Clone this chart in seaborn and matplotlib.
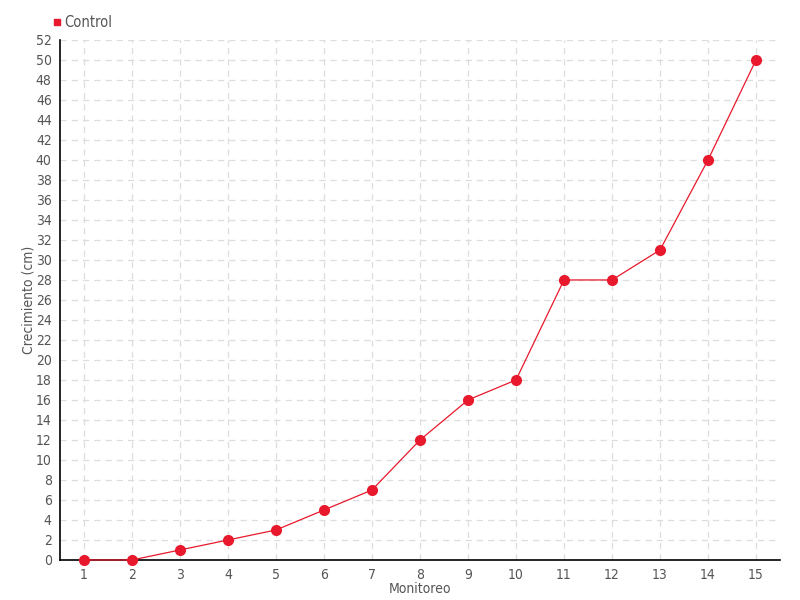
import numpy as np
import pandas as pd
import matplotlib
matplotlib.use("Agg")
import matplotlib.pyplot as plt
import seaborn as sns
from matplotlib.lines import Line2D

# data
monitoreo = list(range(1, 16))
crecimiento = [0, 0, 1, 2, 3, 5, 7, 12, 16, 18, 28, 28, 31, 40, 50]
serie = "Control"

df = pd.DataFrame({"Monitoreo": monitoreo, "Crecimiento": crecimiento})

sns.set_theme(style="white")
plt.rcParams["font.family"] = ["DejaVu Sans"]
plt.rcParams["font.stretch"] = "condensed"

red = "#e8192c"
text_gray = "#555555"

fig = plt.figure(figsize=(8, 6), dpi=100)
ax = fig.add_axes([0.075, 0.0667, 0.9, 0.8667])

sns.lineplot(data=df, x="Monitoreo", y="Crecimiento", ax=ax, color=red,
             linewidth=0.9, marker="o", markersize=8, markeredgewidth=0,
             zorder=3, clip_on=False)

ax.set_xlim(0.5, 15.5)
ax.set_ylim(0, 52)
ax.set_xticks(monitoreo)
ax.set_yticks(np.arange(0, 53, 2))
ax.tick_params(axis="both", direction="out", length=4, width=1, color="black",
               labelsize=10, labelcolor=text_gray, pad=2)

ax.grid(True, linestyle=(0, (5, 4)), color="#dddddd", linewidth=0.9)
for s in ["top", "right"]:
    ax.spines[s].set_visible(False)
for s in ["left", "bottom"]:
    ax.spines[s].set_color("black")
    ax.spines[s].set_linewidth(1.2)

ax.set_xlabel("Monitoreo", fontsize=10, color=text_gray, labelpad=0)
ax.set_ylabel("Crecimiento (cm)", fontsize=10, color=text_gray, labelpad=0)

handle = Line2D([], [], marker="s", linestyle="none", color=red, markersize=5)
fig.legend([handle], [serie], loc="upper left", bbox_to_anchor=(0.057, 0.985),
           frameon=False, fontsize=10.5, handletextpad=0.1, borderaxespad=0,
           labelcolor=text_gray, handlelength=0.8)

fig.savefig("out.png", dpi=100)
